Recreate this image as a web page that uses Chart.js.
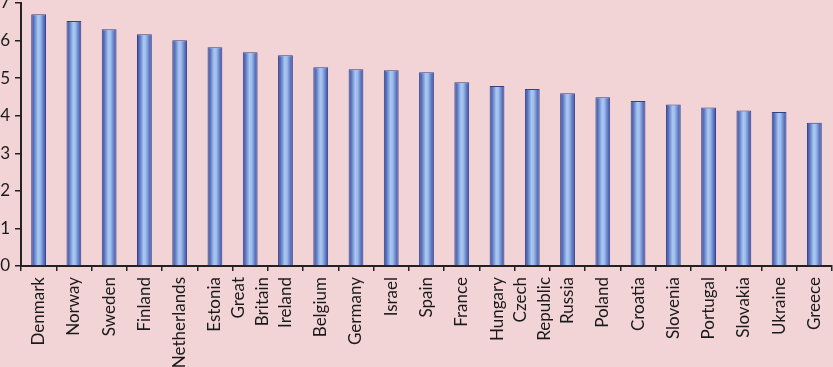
<!DOCTYPE html>
<html>
<head>
<meta charset="utf-8">
<script src="https://cdn.jsdelivr.net/npm/chart.js@4/dist/chart.umd.min.js"></script>
<style>
  html, body { margin: 0; padding: 0; background: #f2d4d6; }
  #wrap { position: relative; width: 833px; height: 367px; }
</style>
</head>
<body>
<div id="wrap"><canvas id="c" width="833" height="367"></canvas></div>
<script>
const categories = [
  "Denmark", "Norway", "Sweden", "Finland", "Netherlands", "Estonia",
  ["Great", "Britain"], "Ireland", "Belgium", "Germany", "Israel", "Spain",
  "France", "Hungary", ["Czech", "Republic"], "Russia", "Poland", "Croatia",
  "Slovenia", "Portugal", "Slovakia", "Ukraine", "Greece"
];
const values = [
  6.70, 6.52, 6.30, 6.17, 6.01, 5.82,
  5.69, 5.61, 5.29, 5.24, 5.21, 5.16,
  4.89, 4.79, 4.71, 4.60, 4.49, 4.39,
  4.30, 4.22, 4.14, 4.10, 3.81
];
const yTicks = [0, 1, 2, 3, 4, 5, 6, 7];

const BAR_PCT = 0.42;

function barGradient(ctx) {
  const chart = ctx.chart;
  const xs = chart.scales && chart.scales.x;
  if (!chart.chartArea || !xs || ctx.dataIndex === undefined) return '#7f9fdc';
  const cx = xs.getPixelForValue(ctx.dataIndex);
  const w = (xs.width / categories.length) * BAR_PCT;
  const g = chart.ctx.createLinearGradient(cx - w / 2, 0, cx + w / 2, 0);
  g.addColorStop(0.0, '#3d4c98');
  g.addColorStop(0.18, '#5a74c0');
  g.addColorStop(0.45, '#a9c8f1');
  g.addColorStop(0.6, '#9dbdec');
  g.addColorStop(0.85, '#5a72bf');
  g.addColorStop(1.0, '#3d4c98');
  return g;
}

function zeroPad(scale) {
  scale.paddingTop = 0; scale.paddingBottom = 0;
  scale.paddingLeft = 0; scale.paddingRight = 0;
}

// Center multi-line rotated labels on their tick (Chart.js starts them at the tick).
const centerMultiLine = {
  id: 'centerMultiLine',
  beforeDraw(chart) {
    const xs = chart.scales.x;
    const items = xs.getLabelItems();
    items.forEach(it => {
      if (Array.isArray(it.label) && it.label.length > 1 && !it._centered) {
        const lh = it.font.lineHeight;
        it.options.translation[0] -= (it.label.length - 1) * lh / 2;
        it._centered = true;
      }
    });
  }
};

new Chart(document.getElementById('c'), {
  type: 'bar',
  data: {
    labels: categories,
    datasets: [{
      data: values,
      backgroundColor: barGradient,
      borderColor: '#34418a',
      borderWidth: 1,
      borderSkipped: 'bottom',
      categoryPercentage: 1.0,
      barPercentage: BAR_PCT
    }]
  },
  plugins: [centerMultiLine],
  options: {
    responsive: false,
    animation: false,
    devicePixelRatio: 1,
    layout: { padding: { top: 3, right: 1, bottom: 0, left: 0 } },
    plugins: { legend: { display: false }, tooltip: { enabled: false } },
    scales: {
      x: {
        offset: true,
        afterFit: (s) => { s.height = 101; zeroPad(s); },
        grid: { offset: true, drawOnChartArea: false, drawTicks: true, tickLength: 5, color: '#222', lineWidth: 1.5 },
        border: { display: true, color: '#222', width: 2 },
        ticks: {
          autoSkip: false, maxRotation: 90, minRotation: 90,
          padding: 6, color: '#1a1a1a',
          font: { family: 'Lato', size: 17, lineHeight: 1.4 }
        }
      },
      y: {
        min: 0, max: 7,
        afterFit: (s) => { s.width = 21; zeroPad(s); },
        afterBuildTicks: (s) => { s.ticks = yTicks.map(v => ({ value: v })); },
        grid: { drawOnChartArea: false, drawTicks: true, tickLength: 6, color: '#222', lineWidth: 1.5 },
        border: { display: true, color: '#222', width: 2 },
        ticks: {
          padding: 5, color: '#1a1a1a',
          font: { family: 'Lato', size: 17 }
        }
      }
    }
  }
});
</script>
</body>
</html>
